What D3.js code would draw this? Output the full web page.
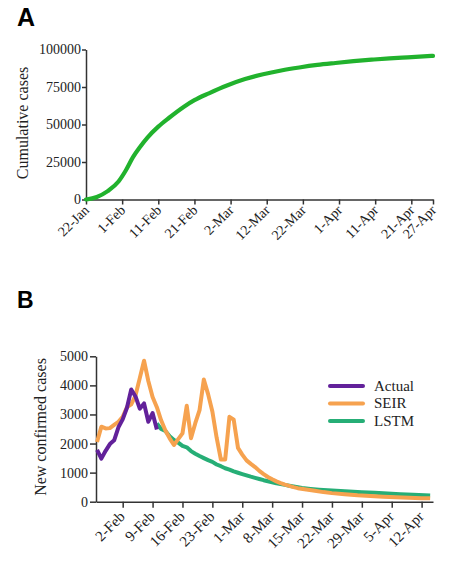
<!DOCTYPE html>
<html lang="en">
<head>
<meta charset="UTF-8">
<title>Cumulative and new confirmed cases</title>
<script src="https://d3js.org/d3.v7.min.js"></script>
<style>
  body { margin: 0; background: #fff; }
  svg text { font-family: "Liberation Serif", "Times New Roman", serif; fill: #222; }
  .axis path, .axis line { stroke: #333; stroke-width: 1.5; }
</style>
</head>
<body>
<svg id="canvas"></svg>
<script>
// ---- panel A : cumulative cases ----
let cumDays = ['22-Jan','25-Jan','28-Jan','31-Jan','2-Feb','4-Feb','6-Feb','8-Feb','11-Feb','14-Feb',
               '18-Feb','21-Feb','25-Feb','1-Mar','6-Mar','11-Mar','16-Mar','21-Mar','26-Mar','31-Mar',
               '5-Apr','10-Apr','15-Apr','20-Apr','27-Apr']
let cumValues = [0, 1700, 5600, 12000, 19300, 28200, 35200, 41300, 48600, 54500,
                 61700, 66200, 70800, 76000, 80300, 83500, 86000, 88000, 89700, 91000,
                 92200, 93200, 94100, 94800, 95800]
let cumTicks = ['22-Jan','1-Feb','11-Feb','21-Feb','2-Mar','12-Mar','22-Mar','1-Apr','11-Apr','21-Apr','27-Apr']
let cumYTicks = [0, 25000, 50000, 75000, 100000]

// ---- panel B : new confirmed cases ----
let actualDays = ['27-Jan','28-Jan','29-Jan','30-Jan','31-Jan','1-Feb','2-Feb','3-Feb','4-Feb','5-Feb',
                  '6-Feb','7-Feb','8-Feb','9-Feb','10-Feb']
let actualValues = [1780, 1480, 1750, 1980, 2110, 2560, 2830, 3230, 3860, 3620,
                    3200, 3380, 2750, 3050, 2480]

let seirDays = ['27-Jan','28-Jan','29-Jan','30-Jan','31-Jan','1-Feb','2-Feb','3-Feb','4-Feb','5-Feb',
                '6-Feb','7-Feb','8-Feb','9-Feb','10-Feb','11-Feb','12-Feb','13-Feb','14-Feb','15-Feb',
                '16-Feb','17-Feb','18-Feb','19-Feb','20-Feb','21-Feb','22-Feb','23-Feb','24-Feb','25-Feb',
                '26-Feb','27-Feb','28-Feb','29-Feb','1-Mar','2-Mar','3-Mar','4-Mar','5-Mar','6-Mar',
                '7-Mar','8-Mar','9-Mar','10-Mar','11-Mar','12-Mar','13-Mar','14-Mar','16-Mar','18-Mar',
                '20-Mar','22-Mar','25-Mar','28-Mar','31-Mar','3-Apr','6-Apr','9-Apr','12-Apr','14-Apr']
let seirValues = [2050, 2580, 2520, 2530, 2640, 2750, 2920, 3250, 3350, 3650,
                  4250, 4850, 4150, 3600, 3250, 2800, 2450, 2180, 1950, 2150,
                  2350, 3300, 2180, 2700, 3150, 4200, 3700, 3100, 2200, 1450,
                  1450, 2920, 2820, 1850, 1620, 1420, 1300, 1190, 1060, 950,
                  850, 770, 700, 640, 590, 545, 500, 465, 420, 375,
                  330, 295, 255, 220, 195, 170, 150, 135, 122, 115]

let lstmDays = ['10-Feb','11-Feb','12-Feb','13-Feb','14-Feb','15-Feb','16-Feb','17-Feb','18-Feb','19-Feb',
                '20-Feb','21-Feb','22-Feb','23-Feb','24-Feb','25-Feb','26-Feb','27-Feb','28-Feb','29-Feb',
                '1-Mar','2-Mar','3-Mar','4-Mar','5-Mar','6-Mar','7-Mar','8-Mar','9-Mar','10-Mar',
                '11-Mar','12-Mar','13-Mar','14-Mar','15-Mar','17-Mar','19-Mar','21-Mar','23-Mar','26-Mar',
                '29-Mar','1-Apr','4-Apr','7-Apr','10-Apr','14-Apr']
let lstmValues = [2690, 2500, 2430, 2250, 2120, 2030, 1920, 1870, 1740, 1650,
                  1570, 1500, 1430, 1370, 1280, 1220, 1150, 1100, 1040, 995,
                  950, 905, 860, 820, 780, 740, 705, 670, 635, 605,
                  578, 550, 522, 495, 470, 440, 415, 395, 378, 350,
                  328, 305, 282, 260, 240, 215]

let newTicks = ['2-Feb','9-Feb','16-Feb','23-Feb','1-Mar','8-Mar','15-Mar','22-Mar','29-Mar','5-Apr','12-Apr']
let newYTicks = [0, 1000, 2000, 3000, 4000, 5000]

let seriesNames = ['Actual', 'SEIR', 'LSTM']
let seriesColors = ['#62219a', '#f6a24f', '#26ae76']

let width = 466
let height = 564
let parseDay = (s) => d3.timeParse('%d-%b-%Y')(s + '-2020')
let fmtDay = d3.timeFormat('%-d-%b')

let svg = d3.select('#canvas').attr('width', width).attr('height', height)

// panel letters
svg.append('text').attr('x', 17).attr('y', 26)
    .style('font-family', '"Liberation Sans", Arial, sans-serif')
    .style('font-weight', 'bold').style('font-size', '25px').style('fill', '#000')
    .text('A')
svg.append('text').attr('x', 17).attr('y', 308)
    .style('font-family', '"Liberation Sans", Arial, sans-serif')
    .style('font-weight', 'bold').style('font-size', '23px').style('fill', '#000')
    .text('B')

// ---------- panel A ----------
let xA = d3.scaleTime()
    .domain([parseDay('22-Jan'), parseDay('27-Apr')])
    .range([86, 433])
let yA = d3.scaleLinear()
    .domain([0, 100000])
    .range([199.5, 49.5])

let xAxisA = d3.axisBottom(xA)
    .tickValues(cumTicks.map(parseDay))
    .tickFormat(fmtDay)
    .tickSize(5)
    .tickSizeOuter(0)
let gxA = svg.append('g').attr('class', 'axis')
    .attr('transform', 'translate(0,199.5)')
    .call(xAxisA)
gxA.selectAll('.tick text')
    .attr('x', 0).attr('y', 0).attr('dy', '0.35em')
    .attr('text-anchor', 'end')
    .attr('transform', 'translate(0,8) rotate(-45)')
    .style('font-size', '14px')

let yAxisA = d3.axisLeft(yA)
    .tickValues(cumYTicks)
    .tickFormat(d3.format('d'))
    .tickSize(4)
    .tickPadding(1)
    .tickSizeOuter(0)
svg.append('g').attr('class', 'axis')
    .attr('transform', 'translate(86,0)')
    .call(yAxisA)
    .selectAll('.tick text').style('font-size', '14px')

svg.append('text')
    .attr('transform', 'translate(28,123) rotate(-90)')
    .attr('text-anchor', 'middle')
    .style('font-size', '16px')
    .text('Cumulative cases')

let cumData = cumDays.map((d, i) => ({ date: parseDay(d), value: cumValues[i] }))
svg.append('path')
    .datum(cumData)
    .attr('fill', 'none')
    .attr('stroke', '#21b22d')
    .attr('stroke-width', 4.2)
    .attr('stroke-linecap', 'round')
    .attr('d', d3.line()
        .x(d => xA(d.date))
        .y(d => yA(d.value))
        .curve(d3.curveMonotoneX))

// ---------- panel B ----------
let xB = d3.scaleTime()
    .domain([new Date(2020, 0, 26, 18), new Date(2020, 3, 14, 16)])
    .range([96, 433])
let yB = d3.scaleLinear()
    .domain([0, 5000])
    .range([501.7, 356.3])

let xAxisB = d3.axisBottom(xB)
    .tickValues(newTicks.map(parseDay))
    .tickFormat(fmtDay)
    .tickSize(6)
    .tickSizeOuter(0)
let gxB = svg.append('g').attr('class', 'axis')
    .attr('transform', 'translate(0,501.7)')
    .call(xAxisB)
gxB.selectAll('.tick text')
    .attr('x', 0).attr('y', 0).attr('dy', '0.35em')
    .attr('text-anchor', 'end')
    .attr('transform', 'translate(-1,12) rotate(-45)')
    .style('font-size', '15px')

let yAxisB = d3.axisLeft(yB)
    .tickValues(newYTicks)
    .tickFormat(d3.format('d'))
    .tickSize(6)
    .tickPadding(2)
    .tickSizeOuter(0)
svg.append('g').attr('class', 'axis')
    .attr('transform', 'translate(96,0)')
    .call(yAxisB)
    .selectAll('.tick text').style('font-size', '14px')

svg.append('text')
    .attr('transform', 'translate(46,427) rotate(-90)')
    .attr('text-anchor', 'middle')
    .style('font-size', '16px')
    .text('New confirmed cases')

let lineB = d3.line()
    .x(d => xB(d.date))
    .y(d => yB(d.value))

let toSeries = (days, vals) => days.map((d, i) => ({ date: parseDay(d), value: vals[i] }))
let seriesB = [
    toSeries(actualDays, actualValues),
    toSeries(seirDays, seirValues),
    toSeries(lstmDays, lstmValues)
]

// draw order: LSTM, SEIR, Actual on top
;[2, 1, 0].forEach(i => {
    svg.append('path')
        .datum(seriesB[i])
        .attr('fill', 'none')
        .attr('stroke', seriesColors[i])
        .attr('stroke-width', 4)
        .attr('stroke-linejoin', 'round')
        .attr('d', lineB)
})

// legend
let legend = svg.append('g').attr('transform', 'translate(330,386)')
seriesNames.forEach((name, i) => {
    let g = legend.append('g').attr('transform', 'translate(0,' + (i * 17.5) + ')')
    g.append('line')
        .attr('x1', 0).attr('x2', 33)
        .attr('y1', 0).attr('y2', 0)
        .attr('stroke', seriesColors[i])
        .attr('stroke-width', 4)
        .attr('stroke-linecap', 'round')
    g.append('text')
        .attr('x', 44).attr('y', 0).attr('dy', '0.33em')
        .style('font-size', '15px')
        .text(name)
})
</script>
